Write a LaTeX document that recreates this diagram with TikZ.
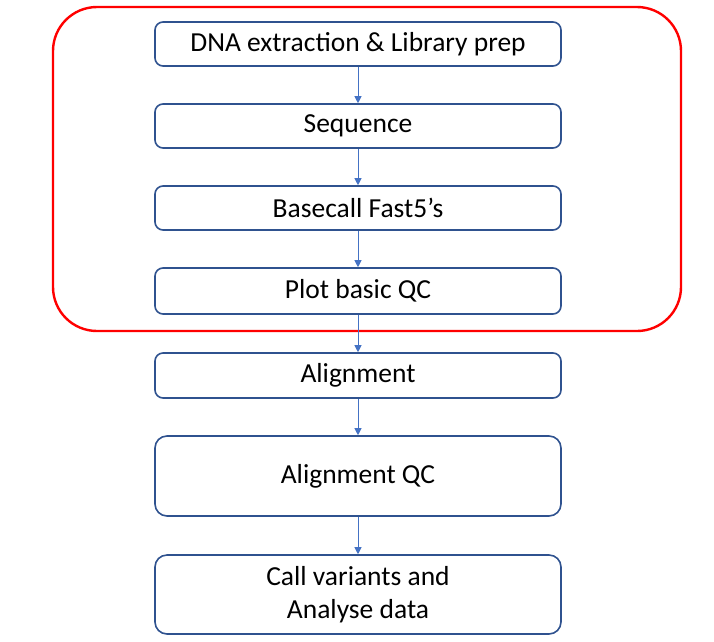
\documentclass[tikz,border=0pt]{standalone}
\usepackage{fontspec}
\setmainfont{Carlito}
\usetikzlibrary{arrows.meta}
\definecolor{boxline}{HTML}{2F528F}
\definecolor{arrowblue}{HTML}{4472C4}
\begin{document}
\begin{tikzpicture}[x=1pt,y=-1pt,
  stepbox/.style={draw=boxline, line width=1.6pt, rounded corners=8pt, fill=white,
    minimum width=406pt, inner sep=0pt, align=center, font=\fontsize{27.5}{33}\selectfont},
  conn/.style={draw=arrowblue, line width=0.9pt, -{Triangle[length=7pt,width=7pt]}}]
\useasboundingbox (0,0) rectangle (714,641);
\fill[white] (0,0) rectangle (714,641);
\draw[red, line width=2.4pt, rounded corners=44pt] (53,7) rectangle (681,331);
\node[stepbox, minimum height=44pt] (b1) at (358,44) {DNA extraction \& Library prep};
\node[stepbox, minimum height=44pt] (b2) at (358,126) {Sequence};
\node[stepbox, minimum height=44pt] (b3) at (358,208) {Basecall Fast5’s};
\node[stepbox, minimum height=46pt] (b4) at (358,291) {Plot basic QC};
\node[stepbox, minimum height=45pt] (b5) at (358,375.5) {Alignment};
\node[stepbox, minimum height=80pt, rounded corners=12pt] (b6) at (358,476) {Alignment QC};
\node[stepbox, minimum height=79pt, rounded corners=12pt] (b7) at (358,594.5) {Call variants and\\Analyse data};
\draw[conn] (b1) -- (b2);
\draw[conn] (b2) -- (b3);
\draw[conn] (b3) -- (b4);
\draw[conn] (b4) -- (b5);
\draw[conn] (b5) -- (b6);
\draw[conn] (b6) -- (b7);
\end{tikzpicture}
\end{document}
